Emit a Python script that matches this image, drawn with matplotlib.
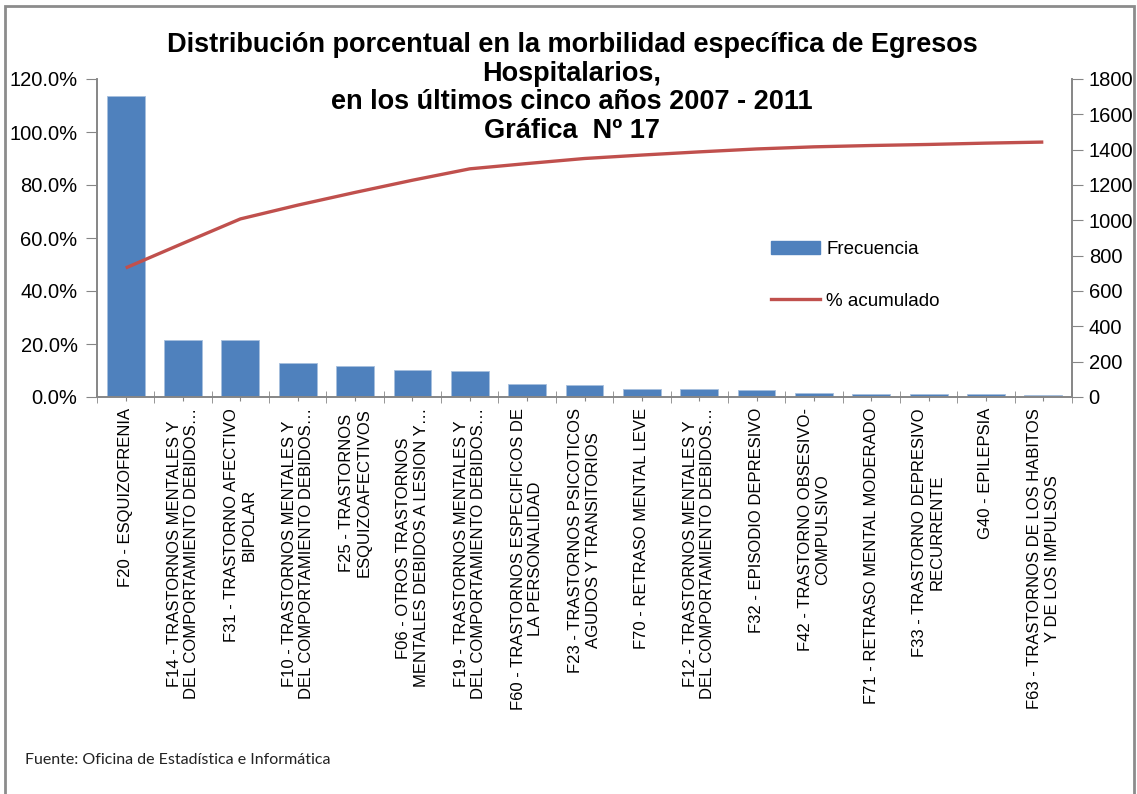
import matplotlib
matplotlib.use("Agg")
import matplotlib.pyplot as plt
from matplotlib.patches import Patch, Rectangle
from matplotlib.lines import Line2D
from matplotlib.ticker import FuncFormatter, FixedLocator

plt.rcParams['font.family'] = ['Liberation Sans', 'DejaVu Sans']

categorias = [
    "F20 - ESQUIZOFRENIA",
    "F14 - TRASTORNOS MENTALES Y\nDEL COMPORTAMIENTO DEBIDOS…",
    "F31 - TRASTORNO AFECTIVO\nBIPOLAR",
    "F10 - TRASTORNOS MENTALES Y\nDEL COMPORTAMIENTO DEBIDOS…",
    "F25 - TRASTORNOS\nESQUIZOAFECTIVOS",
    "F06 - OTROS TRASTORNOS\nMENTALES DEBIDOS A LESION Y…",
    "F19 - TRASTORNOS MENTALES Y\nDEL COMPORTAMIENTO DEBIDOS…",
    "F60 - TRASTORNOS ESPECIFICOS DE\nLA PERSONALIDAD",
    "F23 - TRASTORNOS PSICOTICOS\nAGUDOS Y TRANSITORIOS",
    "F70 - RETRASO MENTAL LEVE",
    "F12 - TRASTORNOS MENTALES Y\nDEL COMPORTAMIENTO DEBIDOS…",
    "F32 - EPISODIO DEPRESIVO",
    "F42 - TRASTORNO OBSESIVO-\nCOMPULSIVO",
    "F71 - RETRASO MENTAL MODERADO",
    "F33 - TRASTORNO DEPRESIVO\nRECURRENTE",
    "G40 - EPILEPSIA",
    "F63 - TRASTORNOS DE LOS HABITOS\nY DE LOS IMPULSOS",
]
frecuencia = [1703, 320, 320, 193, 174, 153, 148, 72, 66, 45, 45, 40, 24, 17, 17, 17, 11]
pct_acumulado = [48.7, 58.0, 67.2, 72.4, 77.2, 81.8, 86.1, 88.1, 90.0, 91.3,
                 92.5, 93.6, 94.4, 94.9, 95.3, 95.8, 96.2]

titulo = ("Distribución porcentual en la morbilidad específica de Egresos\n"
          "Hospitalarios,\nen los últimos cinco años 2007 - 2011\nGráfica  Nº 17")
fuente = "Fuente: Oficina de Estadística e Informática"

W, H = 1137, 794
fig = plt.figure(figsize=(W / 100, H / 100), dpi=100)
fig.patch.set_facecolor('white')

# marco gris del grafico
fig.patches.append(Rectangle((5 / W, -0.02), (W - 8) / W, 1 - 6 / H + 0.02,
                             transform=fig.transFigure, fill=False,
                             edgecolor='#8c8c8c', linewidth=2))

ax = fig.add_axes([97 / W, 1 - 397 / H, (1072 - 97) / W, (397 - 79) / H])
ax2 = ax.twinx()

x = list(range(len(categorias)))
grey = '#868686'

# barras en el eje derecho
ax2.bar(x, frecuencia, width=0.66, color='#4F81BD', edgecolor='#A7BFDE', linewidth=0.6)
ax2.set_ylim(0, 1800)
ax2.set_yticks(range(0, 1801, 200))

# linea en el eje izquierdo
ax.plot(x, pct_acumulado, color='#C0504D', linewidth=2.4, solid_capstyle='butt')
ax.set_ylim(0, 120)
ax.set_yticks(range(0, 121, 20))
ax.yaxis.set_major_formatter(FuncFormatter(lambda v, p: f"{v:.1f}%"))
ax.set_zorder(ax2.get_zorder() + 1)
ax.patch.set_visible(False)

ax.set_xlim(-0.5, len(categorias) - 0.5)
ax.set_xticks(x)
ax.set_xticklabels(categorias, rotation=90, ha='center', va='top',
                   multialignment='center', fontsize=12, linespacing=1.2)
ax.xaxis.set_minor_locator(FixedLocator([i - 0.5 for i in range(len(categorias) + 1)]))
ax.tick_params(axis='x', which='major', length=3, color=grey, pad=5)
ax.tick_params(axis='x', which='minor', length=9, direction='inout', color=grey)

for a in (ax, ax2):
    a.spines['top'].set_visible(False)
    for s in ('left', 'right', 'bottom'):
        a.spines[s].set_color(grey)
        a.spines[s].set_linewidth(1.2)
ax.tick_params(axis='y', length=8, color=grey, labelsize=14.5, pad=6)
ax2.tick_params(axis='y', length=8, color=grey, labelsize=14.5, pad=4)

fig.text(572 / W, 1 - 88 / H, titulo, ha='center', va='center',
         multialignment='center', fontsize=19.5, fontweight='bold', linespacing=1.13)

handles = [Patch(facecolor='#4F81BD', edgecolor='#4F81BD'),
           Line2D([0], [0], color='#C0504D', linewidth=2.4)]
ax.legend(handles, ['Frecuencia', '% acumulado'], loc='upper left',
          bbox_to_anchor=(771 / W, 1 - 241 / H), bbox_transform=fig.transFigure,
          frameon=False, fontsize=13.5, handlelength=2.6, handletextpad=0.35,
          labelspacing=1.85, borderpad=0, borderaxespad=0)

fig.text(25 / W, 1 - 760 / H, fuente, ha='left', va='center',
         fontsize=11.5, family=['Lato', 'DejaVu Sans'], color='#222222')

fig.savefig('out.png', dpi=100)
